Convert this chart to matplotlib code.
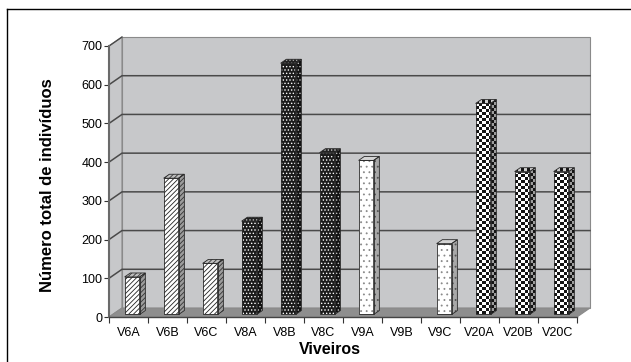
import numpy as np
import matplotlib
matplotlib.use("Agg")
import matplotlib.pyplot as plt
from matplotlib.patches import Polygon
from matplotlib.lines import Line2D

plt.rcParams["font.family"] = ["Liberation Sans", "DejaVu Sans"]
plt.rcParams["hatch.linewidth"] = 0.6

# total individuals per nursery
viveiros = ["V6A", "V6B", "V6C", "V8A", "V8B", "V8C", "V9A", "V9B", "V9C", "V20A", "V20B", "V20C"]
totais = [97, 352, 132, 241, 649, 418, 398, 0, 183, 545, 369, 369]
grupos = ["v6", "v6", "v6", "v8", "v8", "v8", "v9", "v9", "v9", "v20", "v20", "v20"]
yticks = [0, 100, 200, 300, 400, 500, 600, 700]

W, H = 631, 362
fig = plt.figure(figsize=(W / 100, H / 100), dpi=100)
ax = fig.add_axes([109 / W, 1 - 317 / H, (577 - 109) / W, (317 - 46) / H])
n = len(viveiros)
ymax = yticks[-1]

# oblique depth offset of the back wall, in data units
DX = 13 / 39
DY = 9 / (271 / ymax)
F0, F1 = 0.28, 0.72      # bar depth (fraction of floor depth)
BW = 0.385               # bar width in category units


def off(x, y, f):
    return (x + DX * f, y + DY * f)


def face(pts, fc, ec="none", lw=0.0, z=3, **kw):
    p = Polygon(pts, closed=True, facecolor=fc, edgecolor=ec, lw=lw, zorder=z, clip_on=False, **kw)
    ax.add_patch(p)
    return p


WALL, FLOOR, WEDGE = "#c7c8ca", "#8e8e8e", "#8a8a8a"
# side wall, back wall, floor
face([(0, 0), (0, ymax), off(0, ymax, 1), off(0, 0, 1)], WALL, WEDGE, 0.8, z=0)
face([off(0, 0, 1), off(n, 0, 1), off(n, ymax, 1), off(0, ymax, 1)], WALL, WEDGE, 0.8, z=0)
face([(0, 0), (n, 0), off(n, 0, 1), off(0, 0, 1)], FLOOR, WEDGE, 0.8, z=1)

for v in yticks[1:-1]:
    ax.plot([0, DX, n + DX], [v, v + DY, v + DY], color="#4a4a4a", lw=1.1, zorder=0.5, clip_on=False)
ax.plot([0, DX], [ymax, ymax + DY], color="#4a4a4a", lw=1.0, zorder=0.5, clip_on=False)

STYLES = {
    "v6": dict(front=("#ffffff", "#222222", "///////"), side=("#9c9c9c", "#333333", "///////"),
               top=("#bdbdbd", "#333333", "///////")),
    "v8": dict(front=("#1b1b1b", "#ffffff", "....."), side=("#111111", "#bbbbbb", "....."),
               top=("#222222", "#cccccc", ".....")),
    "v9": dict(front=("#ffffff", "#8a8a8a", "..."), side=("#a8a8a8", "#555555", "..."),
               top=("#d4d4d4", "#777777", "...")),
}


def checker(pts, light, z):
    # checkerboard texture clipped to a face
    xs = [p[0] for p in pts]
    ys = [p[1] for p in pts]
    x0, x1, y0, y1 = min(xs), max(xs), min(ys), max(ys)
    nx = max(1, int(round((x1 - x0) / (3 / 39))))
    ny = max(1, int(round((y1 - y0) / (3 / (271 / ymax)))))
    ii, jj = np.indices((ny, nx))
    cell = (ii + jj) % 2
    img = np.where(cell[..., None] == 1, np.array(light), np.array([0.08, 0.08, 0.08]))
    clip = face(pts, "none", z=z)
    im = ax.imshow(img, extent=(x0, x1, y0, y1), origin="lower", aspect="auto",
                   interpolation="nearest", zorder=z)
    im.set_clip_path(clip)


for i, (v, g) in enumerate(zip(totais, grupos)):
    if v <= 0:
        continue
    xl = i + 0.5 - BW / 2
    xr = xl + BW
    front = [off(xl, 0, F0), off(xr, 0, F0), off(xr, v, F0), off(xl, v, F0)]
    side = [off(xr, 0, F0), off(xr, 0, F1), off(xr, v, F1), off(xr, v, F0)]
    top = [off(xl, v, F0), off(xr, v, F0), off(xr, v, F1), off(xl, v, F1)]
    z = 3 + i * 0.01
    if g == "v20":
        checker(front, [1, 1, 1], z)
        checker(side, [0.62, 0.62, 0.62], z)
        checker(top, [0.8, 0.8, 0.8], z)
    else:
        st = STYLES[g]
        for pts, key in ((front, "front"), (side, "side"), (top, "top")):
            fc, hc, hatch = st[key]
            face(pts, fc, z=z)
            face(pts, "none", ec=hc, lw=0, z=z, hatch=hatch)
    for pts in (front, side, top):
        face(pts, "none", ec="#2a2a2a", lw=0.6, z=z + 0.005)

ax.set_xlim(0, n)
ax.set_ylim(0, ymax)
for s in ("top", "right"):
    ax.spines[s].set_visible(False)
ax.spines["left"].set_color("#6a6a6a")
ax.spines["left"].set_linewidth(1.5)
ax.spines["bottom"].set_color("#444444")
ax.spines["bottom"].set_linewidth(1.0)
for s in ("left", "bottom"):
    ax.spines[s].set_zorder(5)
ax.patch.set_visible(False)

ax.set_yticks(yticks)
ax.set_yticklabels([str(t) for t in yticks])
ax.tick_params(axis="y", direction="out", length=3.8, width=0.8, color="#333333",
               pad=1.0, labelsize=9)
ax.set_xticks(np.arange(n + 1))
ax.set_xticklabels([])
ax.set_xticks(np.arange(n) + 0.5, minor=True)
ax.set_xticklabels(viveiros, minor=True)
ax.tick_params(axis="x", which="major", direction="out", length=4.3, width=0.8, color="#333333")
ax.tick_params(axis="x", which="minor", length=0, pad=7.5, labelsize=9)

fig.text(47 / W, 1 - 185 / H, "Número total de indivíduos", rotation=90, ha="center", va="center",
         fontsize=12, fontweight="bold")
fig.text(330 / W, 1 - 349.5 / H, "Viveiros", ha="center", va="center", fontsize=11.5, fontweight="bold")

# outer frame (left and top edges)
fig.add_artist(Line2D([7 / W, 7 / W], [0, 1 - 9 / H], color="black", lw=1.0))
fig.add_artist(Line2D([7 / W, 1], [1 - 9 / H, 1 - 9 / H], color="black", lw=1.0))

fig.savefig("out.png", dpi=100)
